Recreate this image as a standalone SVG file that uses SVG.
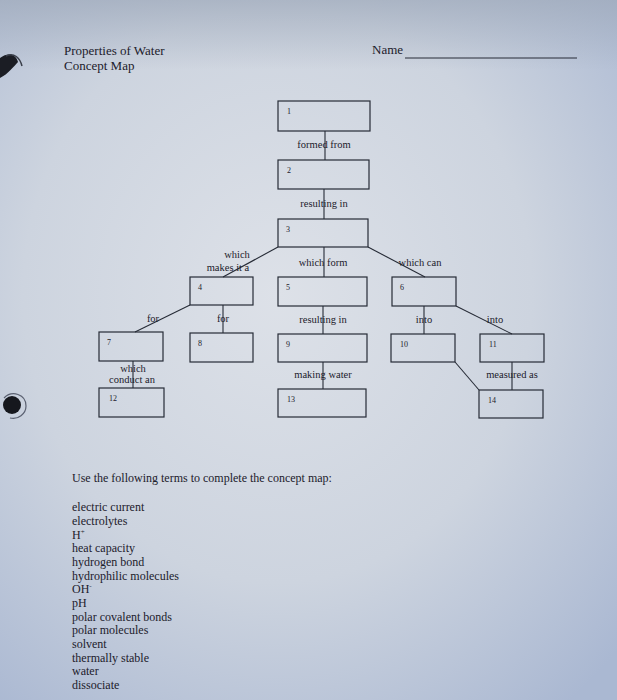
<svg xmlns="http://www.w3.org/2000/svg" width="617" height="700" viewBox="0 0 617 700">
<defs>
<radialGradient id="paper" cx="0.45" cy="0.42" r="0.75">
<stop offset="0" stop-color="#dde1e8"/>
<stop offset="0.55" stop-color="#cdd4df"/>
<stop offset="1" stop-color="#aab8d2"/>
</radialGradient>
<linearGradient id="topshade" x1="0" y1="0" x2="0" y2="1">
<stop offset="0" stop-color="#9ea9ba" stop-opacity="0.7"/>
<stop offset="1" stop-color="#9ea9ba" stop-opacity="0"/>
</linearGradient>
<style>
.box{fill:none;stroke:#262b36;stroke-width:1.2}
.ln{stroke:#262b36;stroke-width:1.1;fill:none}
.t{font-family:"Liberation Serif","Times New Roman",serif;fill:#1c202b}
.lbl{font-size:10.5px;text-anchor:middle}
.num{font-size:8px}
.hd{font-size:13px}
.lst{font-size:12px}
</style>
</defs>
<rect width="617" height="700" fill="url(#paper)"/>
<rect width="617" height="70" fill="url(#topshade)"/>
<!-- binder holes -->
<path d="M0,58 C8,52 16,54 18,62 C14,66 8,74 0,78 Z" fill="#1b1d24"/>
<path d="M6,56 C14,52 20,58 22,66" stroke="#3a3f4a" stroke-width="1.5" fill="none"/>
<ellipse cx="12" cy="405" rx="9" ry="9" fill="#15171d"/>
<path d="M4,398 C12,390 26,394 26,406 C26,414 18,420 10,418" stroke="#5a6070" stroke-width="1.2" fill="none"/>

<g id="header">
<text class="t hd" x="64" y="55">Properties of Water</text>
<text class="t hd" x="64" y="70">Concept Map</text>
<text class="t hd" x="372" y="54">Name</text>
<line x1="405" y1="58" x2="577" y2="58" stroke="#262b36" stroke-width="1"/>
</g>

<g id="connectors">
<line class="ln" x1="325" y1="131" x2="325" y2="160"/>
<line class="ln" x1="324" y1="189" x2="324" y2="219"/>
<line class="ln" x1="278" y1="247" x2="223" y2="277"/>
<line class="ln" x1="324" y1="247" x2="324" y2="277"/>
<line class="ln" x1="368" y1="247" x2="425" y2="277"/>
<line class="ln" x1="190" y1="305" x2="135" y2="332"/>
<line class="ln" x1="223" y1="305" x2="223" y2="333"/>
<line class="ln" x1="323" y1="306" x2="323" y2="334"/>
<line class="ln" x1="424" y1="306" x2="424" y2="334"/>
<line class="ln" x1="456" y1="306" x2="512" y2="334"/>
<line class="ln" x1="133" y1="361" x2="133" y2="388"/>
<line class="ln" x1="323" y1="362" x2="323" y2="389"/>
<line class="ln" x1="455" y1="362" x2="479" y2="390"/>
<line class="ln" x1="512" y1="362" x2="512" y2="390"/>
<text class="t lbl" x="324" y="148">formed from</text>
<text class="t lbl" x="324" y="207">resulting in</text>
<text class="t lbl" x="237" y="258">which</text>
<text class="t lbl" x="228" y="271">makes it a</text>
<text class="t lbl" x="323" y="266">which form</text>
<text class="t lbl" x="420" y="266">which can</text>
<text class="t lbl" x="153" y="322">for</text>
<text class="t lbl" x="223" y="322">for</text>
<text class="t lbl" x="323" y="323">resulting in</text>
<text class="t lbl" x="424" y="323">into</text>
<text class="t lbl" x="495" y="323">into</text>
<text class="t lbl" x="133" y="372">which</text>
<text class="t lbl" x="132" y="383">conduct  an</text>
<text class="t lbl" x="323" y="378">making water</text>
<text class="t lbl" x="512" y="378">measured as</text>
</g>

<g id="n1"><rect class="box" x="278" y="101" width="92" height="30"/><text class="t num" x="287" y="114">1</text></g>
<g id="n2"><rect class="box" x="278" y="160" width="91" height="29"/><text class="t num" x="287" y="173">2</text></g>
<g id="n3"><rect class="box" x="278" y="219" width="90" height="28"/><text class="t num" x="286" y="232">3</text></g>
<g id="n4"><rect class="box" x="190" y="277" width="63" height="28"/><text class="t num" x="198" y="290">4</text></g>
<g id="n5"><rect class="box" x="278" y="277" width="89" height="29"/><text class="t num" x="286" y="290">5</text></g>
<g id="n6"><rect class="box" x="392" y="277" width="64" height="29"/><text class="t num" x="400" y="290">6</text></g>
<g id="n7"><rect class="box" x="99" y="332" width="64" height="29"/><text class="t num" x="107" y="345">7</text></g>
<g id="n8"><rect class="box" x="190" y="333" width="63" height="29"/><text class="t num" x="198" y="346">8</text></g>
<g id="n9"><rect class="box" x="278" y="334" width="89" height="28"/><text class="t num" x="286" y="347">9</text></g>
<g id="n10"><rect class="box" x="391" y="334" width="64" height="28"/><text class="t num" x="400" y="347">10</text></g>
<g id="n11"><rect class="box" x="480" y="334" width="64" height="28"/><text class="t num" x="489" y="347">11</text></g>
<g id="n12"><rect class="box" x="99" y="388" width="65" height="29"/><text class="t num" x="109" y="401">12</text></g>
<g id="n13"><rect class="box" x="278" y="389" width="88" height="28"/><text class="t num" x="287" y="402">13</text></g>
<g id="n14"><rect class="box" x="479" y="390" width="64" height="28"/><text class="t num" x="488" y="403">14</text></g>

<g id="terms">
<text class="t lst" x="72" y="482">Use the following terms to complete the concept map:</text>
<text class="t lst" x="72" y="511">electric current</text>
<text class="t lst" x="72" y="525">electrolytes</text>
<text class="t lst" x="72" y="539">H<tspan font-size="7" dy="-5">+</tspan></text>
<text class="t lst" x="72" y="552">heat capacity</text>
<text class="t lst" x="72" y="566">hydrogen bond</text>
<text class="t lst" x="72" y="580">hydrophilic molecules</text>
<text class="t lst" x="72" y="593">OH<tspan font-size="7" dy="-5">-</tspan></text>
<text class="t lst" x="72" y="607">pH</text>
<text class="t lst" x="72" y="621">polar covalent bonds</text>
<text class="t lst" x="72" y="634">polar molecules</text>
<text class="t lst" x="72" y="648">solvent</text>
<text class="t lst" x="72" y="662">thermally stable</text>
<text class="t lst" x="72" y="675">water</text>
<text class="t lst" x="72" y="689">dissociate</text>
</g>
</svg>
